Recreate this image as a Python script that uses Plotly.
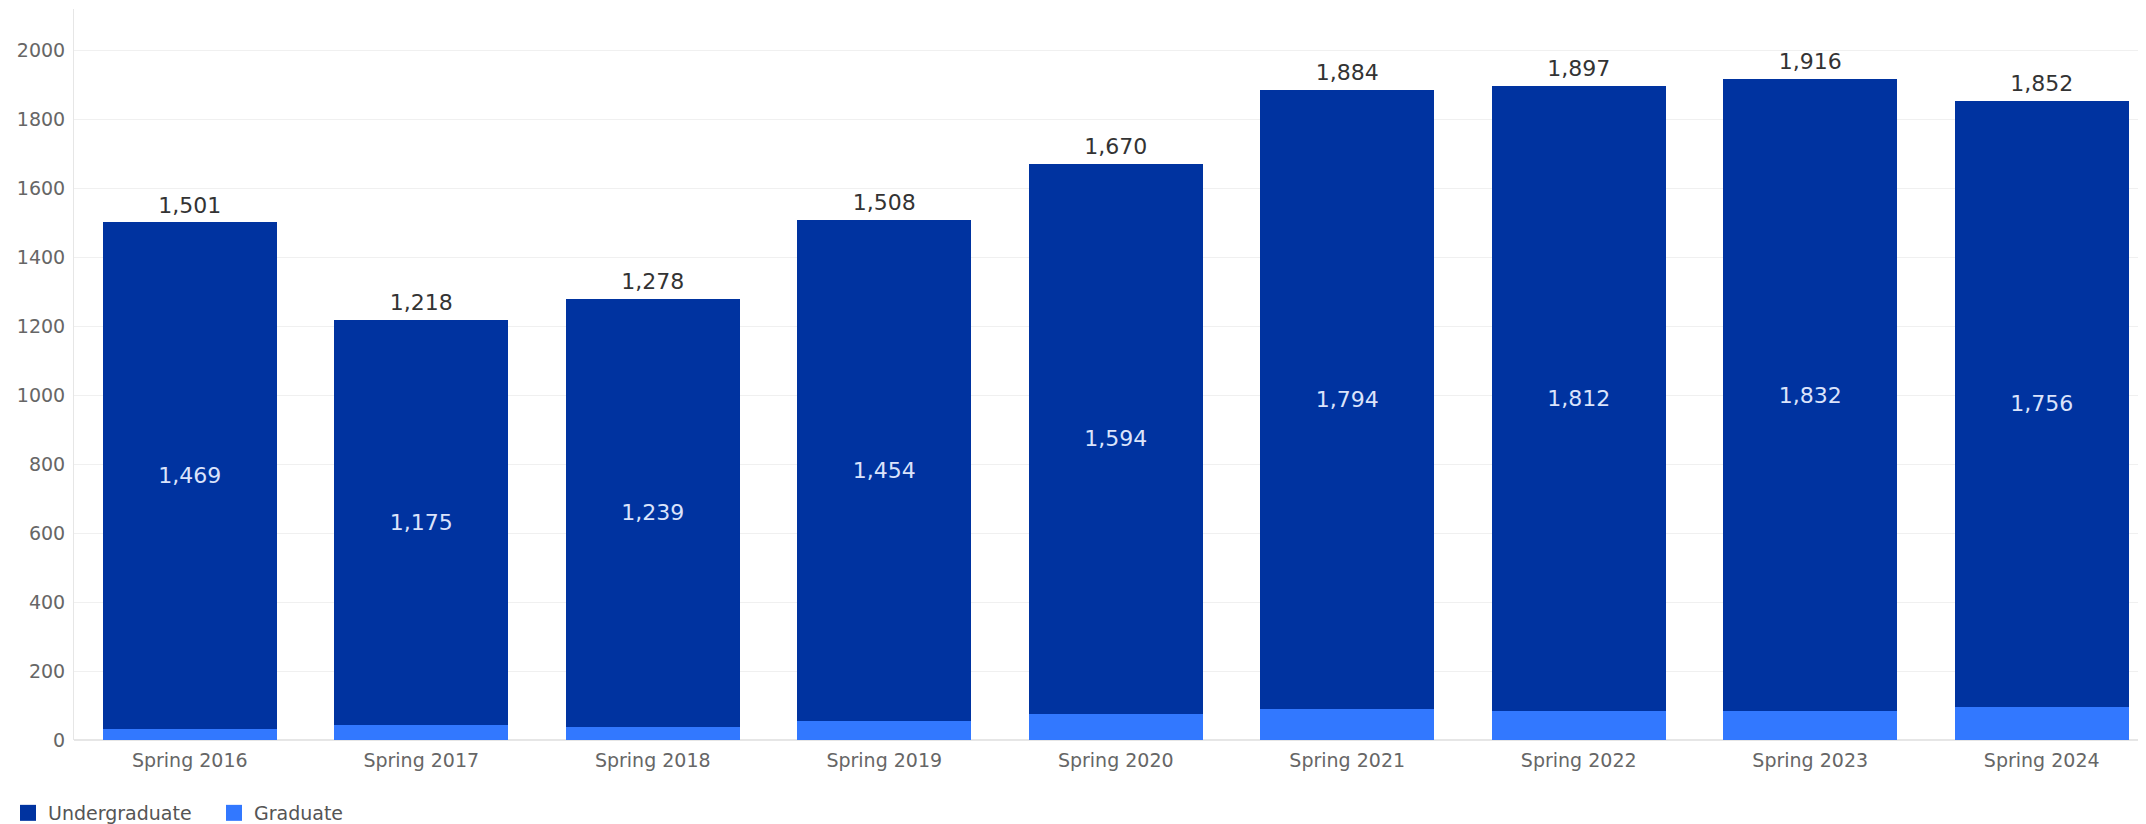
import plotly.graph_objects as go

terms = ["Spring 2016", "Spring 2017", "Spring 2018", "Spring 2019", "Spring 2020",
         "Spring 2021", "Spring 2022", "Spring 2023", "Spring 2024"]
totals = [1501, 1218, 1278, 1508, 1670, 1884, 1897, 1916, 1852]
undergrad = [1469, 1175, 1239, 1454, 1594, 1794, 1812, 1832, 1756]
graduate = [t - u for t, u in zip(totals, undergrad)]
y_ticks = [0, 200, 400, 600, 800, 1000, 1200, 1400, 1600, 1800, 2000]

FONT = "DejaVu Sans"
UG_COLOR = "#0033a0"
GR_COLOR = "#3278ff"

fig = go.Figure()
fig.add_trace(go.Bar(
    x=terms, y=graduate, name="Graduate", marker=dict(color=GR_COLOR, line=dict(width=0)),
    showlegend=False,
))
fig.add_trace(go.Bar(
    x=terms, y=undergrad, name="Undergraduate", marker=dict(color=UG_COLOR, line=dict(width=0)),
    text=[f"{v:,}" for v in undergrad], textposition="inside", insidetextanchor="middle",
    textangle=0, textfont=dict(family=FONT, size=22, color="#dbe3fb"),
    showlegend=False,
))
fig.add_trace(go.Scatter(
    x=terms, y=totals, mode="markers+text", text=[f"{v:,}" for v in totals],
    marker=dict(size=5, opacity=0),
    textposition="top center", textfont=dict(family=FONT, size=22, color="#333333"),
    showlegend=False, hoverinfo="skip",
))
# legend entries (square swatches)
fig.add_trace(go.Scatter(
    x=[None], y=[None], mode="markers", name="Undergraduate",
    marker=dict(symbol="square", size=22, color=UG_COLOR), legendrank=1,
))
fig.add_trace(go.Scatter(
    x=[None], y=[None], mode="markers", name="Graduate",
    marker=dict(symbol="square", size=22, color=GR_COLOR), legendrank=2,
))

fig.update_layout(
    width=2146, height=824,
    barmode="stack", bargap=0.25,
    plot_bgcolor="white", paper_bgcolor="white",
    margin=dict(l=66, r=0, t=1, b=92),
    font=dict(family=FONT, size=19, color="#666666"),
    legend=dict(
        orientation="h", x=0, xanchor="left", xref="container",
        y=0, yanchor="bottom", yref="container",
        font=dict(family=FONT, size=19, color="#555555"),
        itemsizing="trace", traceorder="normal", itemwidth=30,
        entrywidth=161,
    ),
    xaxis=dict(
        range=[-0.5, 8.485], showgrid=False, showline=False, ticks="",
        automargin=False, ticklabelstandoff=7,
        tickfont=dict(family=FONT, size=19, color="#666666"),
    ),
    yaxis=dict(
        range=[0, 2119], tickvals=y_ticks, showgrid=True, gridcolor="#f0f0f0",
        zeroline=True, zerolinecolor="#e6e6e6", showline=True, linecolor="#e6e6e6",
        ticks="", automargin=False, ticklabelstandoff=4,
        tickfont=dict(family=FONT, size=19, color="#666666"),
    ),
)

fig.write_html("out.html")
